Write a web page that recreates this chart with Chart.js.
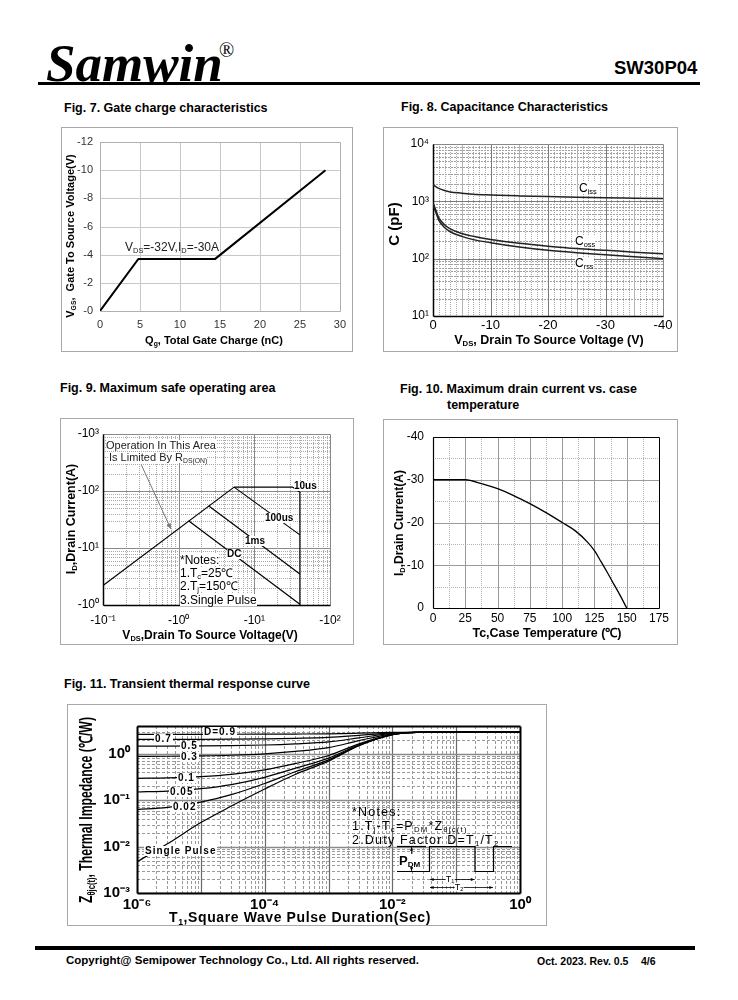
<!DOCTYPE html>
<html>
<head>
<meta charset="utf-8">
<script src="https://cdn.jsdelivr.net/npm/chart.js@4.4.0/dist/chart.umd.min.js"></script>
<style>
body{margin:0;background:#fff;font-family:'Liberation Sans',Arial,sans-serif;color:#000}
#page{position:relative;width:738px;height:1000px;overflow:hidden}
.a{position:absolute;white-space:nowrap;line-height:1}
.c{transform:translate(-50%,-50%)}
.r{transform:translate(-50%,-50%) rotate(-90deg)}
.ft{font-weight:bold;font-size:12.5px}
.ax{font-weight:bold;font-size:12px}
.box{position:absolute;border:1px solid #a8a8a8;box-sizing:border-box}
.w{background:#fff}
.lb{font-weight:bold;font-size:10px;letter-spacing:1px;background:#fff;padding:0 1px}
sub{font-size:0.62em;vertical-align:-0.3em;line-height:0}
canvas{position:absolute}
</style>
</head>
<body>
<div id="page">
  <!-- header -->
  <div class="a" style="left:46px;top:33px;font:italic bold 53px 'Liberation Serif',serif">Samwin</div>
  <div class="a" style="left:219px;top:39px;font:20px 'Liberation Serif',serif">®</div>
  <div class="a" style="left:614px;top:59px;font-weight:bold;font-size:18.5px">SW30P04</div>
  <div class="a" style="left:38px;top:82px;width:662px;height:3px;background:#000"></div>

  <!-- figure titles -->
  <div class="a ft" style="left:64px;top:102px">Fig. 7. Gate charge characteristics</div>
  <div class="a ft" style="left:401px;top:101px">Fig. 8. Capacitance Characteristics</div>
  <div class="a ft" style="left:60px;top:382px">Fig. 9. Maximum safe operating area</div>
  <div class="a ft" style="left:400px;top:383px">Fig. 10. Maximum drain current vs. case</div>
  <div class="a ft" style="left:447px;top:399px">temperature</div>
  <div class="a ft" style="left:64px;top:678px">Fig. 11. Transient thermal response curve</div>

  <!-- boxes -->
  <div class="box" style="left:61px;top:127px;width:292px;height:225px"></div>
  <div class="box" style="left:383px;top:127px;width:295px;height:225px"></div>
  <div class="box" style="left:60px;top:418px;width:294px;height:227px"></div>
  <div class="box" style="left:383px;top:419px;width:295px;height:226px"></div>
  <div class="box" style="left:67px;top:704px;width:480px;height:222px"></div>

  <canvas id="fig7"></canvas>
  <canvas id="fig8"></canvas>
  <canvas id="fig9"></canvas>
  <canvas id="fig10"></canvas>
  <canvas id="fig11"></canvas>

  <!-- fig 7 texts -->
  <div class="a r ax" style="left:70px;top:236px;font-size:11px">V<sub>GS</sub>,&nbsp; Gate To Source Voltage(V)</div>
  <div class="a c ax" style="left:214px;top:340px;font-size:11px">Q<sub>g</sub>, Total Gate Charge (nC)</div>
  <div class="a" style="left:125px;top:241px;font-size:12px;color:#222">V<sub>DS</sub>=-32V,I<sub>D</sub>=-30A</div>

  <!-- fig 8 texts -->
  <div class="a r" style="left:393px;top:224px;font-weight:bold;font-size:15px">C (pF)</div>
  <div class="a c ax" style="left:549px;top:340px;font-size:12.5px">V<sub>DS</sub>, Drain To Source Voltage (V)</div>
  <div class="a w" style="left:579px;top:182px;font-size:12px">C<sub>iss</sub></div>
  <div class="a w" style="left:575px;top:235px;font-size:12px">C<sub>oss</sub></div>
  <div class="a w" style="left:575px;top:257px;font-size:12px">C<sub>rss</sub></div>

  <!-- fig 9 texts -->
  <div class="a r ax" style="left:71px;top:519px;font-size:12.5px">I<sub>D</sub>,Drain Current(A)</div>
  <div class="a c ax" style="left:210px;top:635px">V<sub>DS</sub>,Drain To Source Voltage(V)</div>
  <div class="a w" style="left:106px;top:440px;font-size:11px;color:#222">Operation In This Area</div>
  <div class="a w" style="left:109px;top:452px;font-size:11px;color:#222">Is Limited By R<sub>DS(ON)</sub></div>
  <div class="a w" style="left:294px;top:481px;font-weight:bold;font-size:10px">10us</div>
  <div class="a w" style="left:265px;top:513px;font-weight:bold;font-size:10px">100us</div>
  <div class="a w" style="left:245px;top:536px;font-weight:bold;font-size:10px">1ms</div>
  <div class="a w" style="left:227px;top:549px;font-weight:bold;font-size:10px">DC</div>
  <div class="a w" style="left:180px;top:554px;font-size:12px">*Notes:</div>
  <div class="a w" style="left:180px;top:567px;font-size:12px">1.T<sub>c</sub>=25℃</div>
  <div class="a w" style="left:180px;top:580px;font-size:12px">2.T<sub>j</sub>=150℃</div>
  <div class="a w" style="left:180px;top:594px;font-size:12px">3.Single Pulse</div>

  <!-- fig 10 texts -->
  <div class="a r ax" style="left:399px;top:523px">I<sub>D</sub>,Drain Current(A)</div>
  <div class="a c ax" style="left:547px;top:633px;font-size:12.5px">Tc,Case Temperature (℃)</div>

  <!-- fig 11 texts -->
  <div class="a r" style="left:86px;top:810px;font-weight:bold;font-size:18px;transform:translate(-50%,-50%) rotate(-90deg) scaleX(0.68)">Z<sub>θjc(t)</sub>, Thermal Impedance (℃/W)</div>
  <div class="a c" style="left:300px;top:917px;font-weight:bold;font-size:14px;letter-spacing:0.6px">T<sub>1</sub>,Square Wave Pulse Duration(Sec)</div>
  <div class="a lb" style="left:203px;top:727px">D=0.9</div>
  <div class="a lb" style="left:154px;top:734px">0.7</div>
  <div class="a lb" style="left:180px;top:741px">0.5</div>
  <div class="a lb" style="left:180px;top:752px">0.3</div>
  <div class="a lb" style="left:177px;top:773px">0.1</div>
  <div class="a lb" style="left:169px;top:787px">0.05</div>
  <div class="a lb" style="left:172px;top:802px">0.02</div>
  <div class="a lb" style="left:144px;top:846px">Single Pulse</div>
  <div class="a" style="left:352px;top:806px;font-size:12.5px;letter-spacing:1.2px">*Notes:</div>
  <div class="a" style="left:352px;top:820px;font-size:12.5px;letter-spacing:1.2px">1.T<sub>j</sub>-T<sub>c</sub>=P<sub>DM</sub>*Z<sub>θjc(t)</sub></div>
  <div class="a" style="left:352px;top:834px;font-size:12.5px;letter-spacing:1.2px">2.Duty Factor D=T<sub>1</sub>/T<sub>2</sub></div>
  <div class="a w" style="left:399px;top:854px;font-weight:bold;font-size:13px">P<sub>DM</sub></div>
  <div class="a c w" style="left:450px;top:879px;font-size:9px">T<sub>1</sub></div>
  <div class="a c w" style="left:459px;top:887px;font-size:9px">T<sub>2</sub></div>

  <!-- footer -->
  <div class="a" style="left:35px;top:946px;width:660px;height:4px;background:#000"></div>
  <div class="a" style="left:66px;top:955px;font-weight:bold;font-size:11.5px">Copyright@ Semipower Technology Co., Ltd. All rights reserved.</div>
  <div class="a" style="left:537px;top:956px;font-weight:bold;font-size:10.5px">Oct. 2023. Rev. 0.5</div>
  <div class="a" style="left:641px;top:956px;font-weight:bold;font-size:10.5px">4/6</div>
</div>

<script>
// Fig. 7 gate charge
const qgNc = [0, 4.8, 14.4, 28.2];
const vgsV = [0, -3.7, -3.7, -10];

// Fig. 8 capacitance (pF)
const vdsCap = [0, -0.5, -1, -2, -3, -5, -7, -10, -15, -20, -25, -30, -35, -40];
const cissPf = [1950, 1800, 1680, 1540, 1460, 1390, 1330, 1290, 1245, 1210, 1180, 1155, 1135, 1115];
const cossPf = [950, 700, 520, 390, 330, 275, 245, 215, 185, 165, 150, 140, 130, 122];
const crssPf = [880, 640, 470, 350, 295, 245, 215, 190, 160, 140, 127, 117, 108, 100];
const capTickVals = [10, 100, 1000, 10000];
const capTickText = ['10¹', '10²', '10³', '10⁴'];

// Fig. 9 SOA, magnitudes (axes are labelled negative)
const rdsLimV = [0.1, 5.4],   rdsLimA = [2.2, 117];
const soa10usV = [5.4, 32, 40, 40], soa10usA = [117, 117, 95, 1];
const soa100usV = [5.4, 40],  soa100usA = [117, 17];
const soa1msV = [2.48, 40],   soa1msA = [55, 3.5];
const soaDcV = [1.35, 40],    soaDcA = [30, 1.03];
const soaXVals = [0.1, 1, 10, 100];
const soaXText = ['-10⁻¹', '-10⁰', '-10¹', '-10²'];
const soaYVals = [1, 10, 100, 1000];
const soaYText = ['-10⁰', '-10¹', '-10²', '-10³'];

// Fig. 10 max drain current vs Tc
const tcC = [0, 25, 37.5, 50, 62.5, 75, 87.5, 100, 110, 120, 125, 130, 135, 140, 145, 150];
const idMaxA = [-30, -30, -29.1, -27.9, -26.3, -24.4, -22.3, -20.0, -18.1, -15.3, -13.4, -10.9, -8.3, -5.6, -2.9, 0];

// Fig. 11 transient thermal impedance
const pulseT = [1e-6, 3e-6, 1e-5, 3e-5, 1e-4, 3e-4, 1e-3, 3e-3, 1e-2, 2e-2, 5e-2, 1e-1, 1];
const zD09 = [2.646, 2.647, 2.649, 2.654, 2.664, 2.682, 2.716, 2.796, 2.906, 2.934, 2.94, 2.94, 2.94];
const zD07 = [2.059, 2.062, 2.068, 2.081, 2.111, 2.166, 2.268, 2.508, 2.838, 2.922, 2.94, 2.94, 2.94];
const zD05 = [1.472, 1.476, 1.487, 1.508, 1.558, 1.65, 1.82, 2.22, 2.77, 2.91, 2.94, 2.94, 2.94];
const zD03 = [0.885, 0.890, 0.905, 0.935, 1.005, 1.134, 1.372, 1.932, 2.702, 2.898, 2.94, 2.94, 2.94];
const zD01 = [0.298, 0.304, 0.324, 0.362, 0.452, 0.618, 0.924, 1.644, 2.634, 2.886, 2.94, 2.94, 2.94];
const zD005 = [0.151, 0.158, 0.178, 0.218, 0.313, 0.489, 0.812, 1.572, 2.617, 2.883, 2.94, 2.94, 2.94];
const zD002 = [0.063, 0.070, 0.091, 0.132, 0.230, 0.412, 0.745, 1.529, 2.607, 2.881, 2.94, 2.94, 2.94];
const zSingle = [0.0047, 0.0115, 0.033, 0.075, 0.175, 0.36, 0.7, 1.5, 2.6, 2.88, 2.94, 2.94, 2.94];
const zthXVals = [1e-6, 1e-4, 1e-2, 1];
const zthXText = ['10⁻⁶', '10⁻⁴', '10⁻²', '10⁰'];
const zthYVals = [1e-3, 1e-2, 1e-1, 1];
const zthYText = ['10⁻³', '10⁻²', '10⁻¹', '10⁰'];

Chart.defaults.font.family = "'Liberation Sans', Arial, sans-serif";
Chart.defaults.color = '#000';

function pts(xs, ys) { return xs.map((x, i) => ({x: x, y: ys[i]})); }
function curve(xs, ys, w, smooth, color) {
  return {data: pts(xs, ys), showLine: true, borderColor: color || '#000', borderWidth: w,
          pointRadius: 0, tension: 0, cubicInterpolationMode: smooth ? 'monotone' : 'default'};
}
function range(a, b, step) { const out = []; for (let v = a; v <= b + 1e-9; v += step) out.push(+v.toFixed(6)); return out; }
function logMajor(a, b) { const out = []; for (let d = a; d <= b * 1.001; d *= 10) out.push(d); return out; }
function logMinor(a, b) { const out = []; for (let d = a; d < b; d *= 10) for (let k = 2; k < 10; k++) out.push(k * d); return out; }

function scale(type, min, max, o) {
  const s = {
    type: type, min: min, max: max, reverse: !!o.reverse,
    grid: {display: false, drawTicks: false}, border: {display: false},
    ticks: {font: o.font, color: o.color || '#000', padding: o.pad, autoSkip: false, maxRotation: 0, minRotation: 0}
  };
  if (o.step) s.ticks.stepSize = o.step;
  if (o.vals) s.afterBuildTicks = sc => { sc.ticks = o.vals.map(v => ({value: v})); };
  if (o.text) s.ticks.callback = (v, i) => o.text[i];
  else if (o.fmt) s.ticks.callback = o.fmt;
  return s;
}

function edge(ctx, st, x1, y1, x2, y2) {
  ctx.strokeStyle = st[0]; ctx.lineWidth = st[1];
  ctx.beginPath(); ctx.moveTo(x1, y1); ctx.lineTo(x2, y2); ctx.stroke();
}

// grid + plot frame drawn under the curves
function gridPlugin(lines, frame) {
  return {
    id: 'gridframe',
    beforeDatasetsDraw(chart) {
      const ctx = chart.ctx, a = chart.chartArea, sx = chart.scales.x, sy = chart.scales.y;
      ctx.save();
      ctx.beginPath(); ctx.rect(a.left, a.top, a.right - a.left, a.bottom - a.top); ctx.clip();
      lines.forEach(g => {
        ctx.strokeStyle = g.color; ctx.lineWidth = g.width || 1; ctx.setLineDash(g.dash || []);
        g.vals.forEach(v => {
          ctx.beginPath();
          if (g.axis === 'x') { const p = Math.round(sx.getPixelForValue(v)) + 0.5; ctx.moveTo(p, a.top); ctx.lineTo(p, a.bottom); }
          else { const p = Math.round(sy.getPixelForValue(v)) + 0.5; ctx.moveTo(a.left, p); ctx.lineTo(a.right, p); }
          ctx.stroke();
        });
      });
      ctx.restore();
      ctx.save();
      const L = Math.round(a.left) + 0.5, R = Math.round(a.right) + 0.5, T = Math.round(a.top) + 0.5, B = Math.round(a.bottom) + 0.5;
      edge(ctx, frame.top, L, T, R, T);
      edge(ctx, frame.right, R, T, R, B);
      edge(ctx, frame.bottom, L, B, R, B);
      edge(ctx, frame.left, L, T, L, B);
      ctx.restore();
    }
  };
}

function arrowHead(ctx, x1, y1, x2, y2, size) {
  const ang = Math.atan2(y2 - y1, x2 - x1);
  ctx.beginPath();
  ctx.moveTo(x2, y2);
  ctx.lineTo(x2 - size * Math.cos(ang - 0.4), y2 - size * Math.sin(ang - 0.4));
  ctx.lineTo(x2 - size * Math.cos(ang + 0.4), y2 - size * Math.sin(ang + 0.4));
  ctx.closePath(); ctx.fill();
}

function makeChart(id, box, plot, xs, ys, datasets, plugins) {
  const cv = document.getElementById(id);
  cv.width = box.w; cv.height = box.h;
  cv.style.left = box.l + 'px'; cv.style.top = box.t + 'px';
  cv.style.width = box.w + 'px'; cv.style.height = box.h + 'px';
  xs.afterFit = s => { s.height = box.t + box.h - plot.b; };
  ys.afterFit = s => { s.width = plot.l - box.l; };
  return new Chart(cv, {
    type: 'scatter',
    data: {datasets: datasets},
    options: {
      responsive: false, animation: false, events: [],
      layout: {autoPadding: false, padding: {left: 0, top: plot.t - box.t, right: box.l + box.w - plot.r, bottom: 0}},
      plugins: {legend: {display: false}, tooltip: {enabled: false}},
      scales: {x: xs, y: ys}
    },
    plugins: plugins
  });
}

// ---- Fig. 7 ----
makeChart('fig7', {l: 61, t: 127, w: 292, h: 225}, {l: 100, t: 142, r: 343, b: 311},
  scale('linear', 0, 30, {step: 5, pad: 7, font: {size: 11}, color: '#333'}),
  scale('linear', -12, 0, {reverse: true, step: 2, pad: 7, font: {size: 11}, color: '#333',
    fmt: v => v === 0 ? '-0' : String(v)}),
  [curve(qgNc, vgsV, 2)],
  [gridPlugin([
    {axis: 'x', vals: range(0, 30, 5), color: '#c8c8c8'},
    {axis: 'y', vals: range(-12, 0, 2), color: '#c8c8c8'}
  ], {top: ['#b0b0b0', 1], right: ['#b0b0b0', 1], bottom: ['#b0b0b0', 1], left: ['#b0b0b0', 1]})]);

// ---- Fig. 8 ----
makeChart('fig8', {l: 383, t: 127, w: 295, h: 225}, {l: 433, t: 144, r: 663, b: 316},
  scale('linear', -40, 0, {reverse: true, step: 10, pad: 2, font: {size: 13}}),
  scale('logarithmic', 10, 10000, {vals: capTickVals, text: capTickText, pad: 4, font: {size: 12}}),
  [curve(vdsCap, cissPf, 1.5, true, '#222'), curve(vdsCap, cossPf, 1.5, true, '#222'), curve(vdsCap, crssPf, 1.5, true, '#222')],
  [gridPlugin([
    {axis: 'x', vals: range(-40, 0, 1).filter(v => v % 5 !== 0), color: '#a8a8a8', dash: [1, 1]},
    {axis: 'y', vals: logMinor(10, 10000), color: '#a0a0a0', dash: [2, 1]},
    {axis: 'x', vals: [-5, -15, -25, -35], color: '#b4b4b4'},
    {axis: 'x', vals: [-10, -20, -30], color: '#7a7a7a'},
    {axis: 'y', vals: logMajor(10, 10000), color: '#7a7a7a'}
  ], {top: ['#888', 1], right: ['#888', 1], bottom: ['#000', 1.5], left: ['#000', 1.5]})]);

// ---- Fig. 9 ----
const soaArrow = {
  id: 'soaArrow',
  afterDatasetsDraw(chart) {
    const ctx = chart.ctx, sx = chart.scales.x, sy = chart.scales.y;
    const x1 = sx.getPixelForValue(0.32), y1 = sy.getPixelForValue(290);
    const x2 = sx.getPixelForValue(0.79), y2 = sy.getPixelForValue(21.5);
    ctx.save();
    ctx.strokeStyle = '#777'; ctx.fillStyle = '#777'; ctx.lineWidth = 1;
    ctx.beginPath(); ctx.moveTo(x1, y1); ctx.lineTo(x2, y2); ctx.stroke();
    arrowHead(ctx, x1, y1, x2, y2, 6);
    ctx.restore();
  }
};
makeChart('fig9', {l: 60, t: 418, w: 294, h: 227}, {l: 103, t: 434, r: 330, b: 605},
  scale('logarithmic', 0.1, 100, {vals: soaXVals, text: soaXText, pad: 8, font: {size: 12}}),
  scale('logarithmic', 1, 1000, {vals: soaYVals, text: soaYText, pad: 4, font: {size: 12}}),
  [curve(rdsLimV, rdsLimA, 1.2), curve(soa10usV, soa10usA, 1.2), curve(soa100usV, soa100usA, 1.2),
   curve(soa1msV, soa1msA, 1.2), curve(soaDcV, soaDcA, 1.2)],
  [gridPlugin([
    {axis: 'x', vals: logMinor(0.1, 100), color: '#a8a8a8', dash: [1, 1]},
    {axis: 'y', vals: logMinor(1, 1000), color: '#a8a8a8', dash: [1, 1]},
    {axis: 'x', vals: logMajor(0.1, 100), color: '#8a8a8a'},
    {axis: 'y', vals: logMajor(1, 1000), color: '#8a8a8a'}
  ], {top: ['#888', 1], right: ['#888', 1], bottom: ['#000', 1.5], left: ['#000', 1.5]}), soaArrow]);

// ---- Fig. 10 ----
makeChart('fig10', {l: 383, t: 419, w: 295, h: 226}, {l: 433, t: 437, r: 659, b: 608},
  scale('linear', 0, 175, {step: 25, pad: 3, font: {size: 12}}),
  scale('linear', -40, 0, {reverse: true, step: 10, pad: 9, font: {size: 12}}),
  [curve(tcC, idMaxA, 1.3, true)],
  [gridPlugin([
    {axis: 'x', vals: range(12.5, 175, 25), color: '#b4b4b4', dash: [1, 1]},
    {axis: 'y', vals: range(-35, 0, 10), color: '#b4b4b4', dash: [1, 1]},
    {axis: 'x', vals: range(0, 175, 25), color: '#9a9a9a'},
    {axis: 'y', vals: range(-40, 0, 10), color: '#9a9a9a'}
  ], {top: ['#000', 1], right: ['#000', 1], bottom: ['#000', 1.2], left: ['#000', 1.2]})]);

// ---- Fig. 11 ----
const BOX11 = {l: 67, t: 704, w: 480, h: 222};
const pulseSketch = {
  id: 'pulseSketch',
  afterDatasetsDraw(chart) {
    const ctx = chart.ctx, ox = BOX11.l, oy = BOX11.t;
    const P = (x, y) => [x - ox, y - oy];
    ctx.save();
    ctx.strokeStyle = '#000'; ctx.fillStyle = '#000'; ctx.lineWidth = 1.2;
    const poly = list => { ctx.beginPath(); list.forEach((p, i) => { const q = P(p[0], p[1]); i ? ctx.lineTo(q[0], q[1]) : ctx.moveTo(q[0], q[1]); }); ctx.stroke(); };
    poly([[397, 846.5], [426, 846.5]]);
    poly([[397, 871.5], [429.5, 871.5], [429.5, 846.5], [475, 846.5], [475, 871.5], [493.5, 871.5], [493.5, 846.5], [512, 846.5]]);
    ctx.lineWidth = 0.8;
    const dbl = (x1, y1, x2, y2) => {
      const a = P(x1, y1), b = P(x2, y2);
      ctx.beginPath(); ctx.moveTo(a[0], a[1]); ctx.lineTo(b[0], b[1]); ctx.stroke();
      arrowHead(ctx, a[0], a[1], b[0], b[1], 4); arrowHead(ctx, b[0], b[1], a[0], a[1], 4);
    };
    dbl(411.5, 847, 411.5, 871);
    dbl(430, 879.5, 474.5, 879.5);
    dbl(430, 887.5, 493, 887.5);
    ctx.restore();
  }
};
makeChart('fig11', BOX11, {l: 137, t: 726, r: 520, b: 893},
  scale('logarithmic', 1e-6, 1, {vals: zthXVals, text: zthXText, pad: 3, font: {size: 15, weight: 'bold'}}),
  scale('logarithmic', 1e-3, 4, {vals: zthYVals, text: zthYText, pad: 7, font: {size: 15, weight: 'bold'}}),
  [curve(pulseT, zD09, 1.2, true), curve(pulseT, zD07, 1.2, true), curve(pulseT, zD05, 1.2, true),
   curve(pulseT, zD03, 1.2, true), curve(pulseT, zD01, 1.2, true), curve(pulseT, zD005, 1.2, true),
   curve(pulseT, zD002, 1.2, true), curve(pulseT, zSingle, 1.2, true)],
  [gridPlugin([
    {axis: 'x', vals: logMinor(1e-6, 1), color: '#9a9a9a', dash: [3, 2]},
    {axis: 'y', vals: logMinor(1e-3, 10), color: '#9a9a9a', dash: [3, 2]},
    {axis: 'x', vals: logMajor(1e-6, 1), color: '#6a6a6a', width: 1.2},
    {axis: 'y', vals: logMajor(1e-3, 1), color: '#8a8a8a', width: 1.6}
  ], {top: ['#000', 2], right: ['#000', 2], bottom: ['#000', 2], left: ['#000', 2]}), pulseSketch]);
</script>
</body>
</html>
